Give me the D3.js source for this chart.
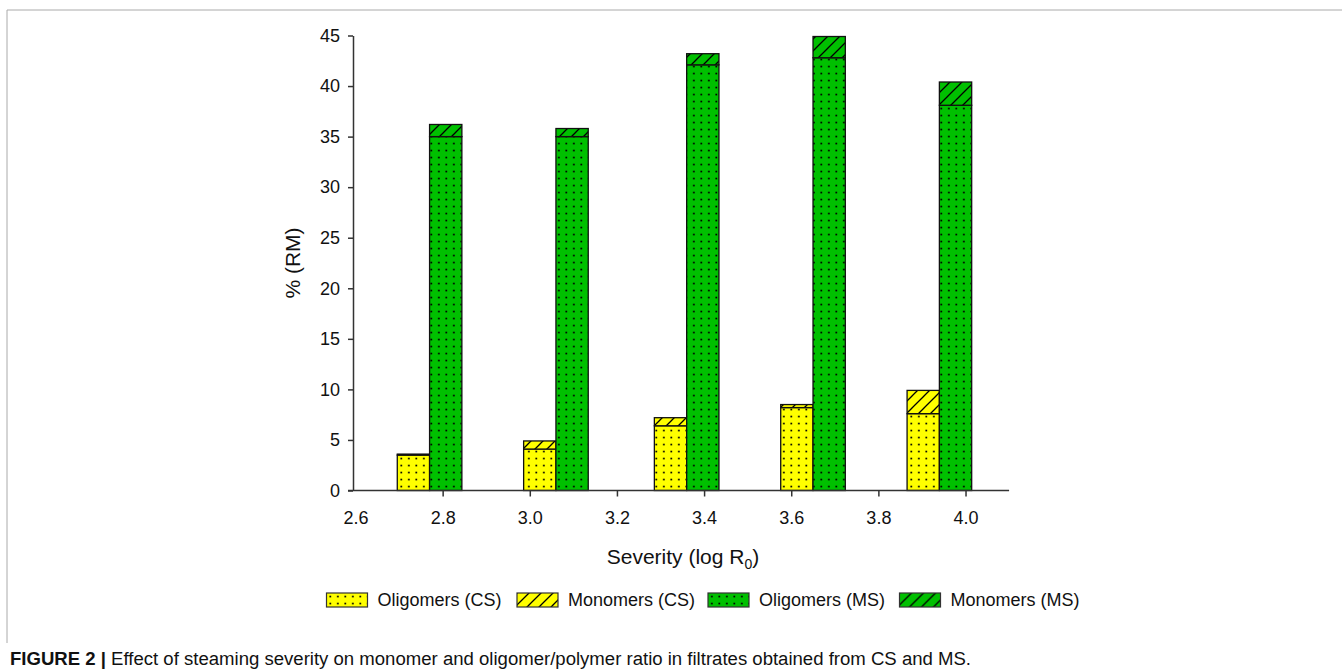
<!DOCTYPE html>
<html>
<head>
<meta charset="utf-8">
<script src="https://cdn.jsdelivr.net/npm/d3@7"></script>
<style>
  body { margin: 0; background: #fff; }
  svg { display: block; font-family: "Liberation Sans", Arial, sans-serif; }
</style>
</head>
<body>
<div id="chart"></div>
<script>
// severity values (log R0) of each steaming run
const severity = [2.77, 3.06, 3.36, 3.65, 3.94];
// % of raw material
const oligomersCS = [3.5, 4.1, 6.4, 8.2, 7.6];
const monomersCS = [0.1, 0.8, 0.8, 0.3, 2.3];
const oligomersMS = [35.0, 35.0, 42.1, 42.8, 38.1];
const monomersMS = [1.2, 0.8, 1.1, 2.1, 2.3];

const xTicks = [2.6, 2.8, 3.0, 3.2, 3.4, 3.6, 3.8, 4.0];
const yTicks = [0, 5, 10, 15, 20, 25, 30, 35, 40, 45];
const legendLabels = ["Oligomers (CS)", "Monomers (CS)", "Oligomers (MS)", "Monomers (MS)"];

const width = 1342, height = 670;
const yellow = "#ffff00", green = "#00c000";
const barW = 32.3;

const svg = d3.select("#chart").append("svg")
  .attr("width", width)
  .attr("height", height);

// patterns: dots for oligomers, hatch for monomers
const defs = svg.append("defs");
function dotPattern(id, color) {
  const p = defs.append("pattern").attr("id", id)
    .attr("patternUnits", "userSpaceOnUse")
    .attr("width", 7.5).attr("height", 7);
  p.append("rect").attr("width", 7.5).attr("height", 7).attr("fill", color);
  p.append("rect").attr("x", 3).attr("y", 2.7).attr("width", 1.7).attr("height", 1.7).attr("fill", "#000");
}
function hatchPattern(id, color) {
  const p = defs.append("pattern").attr("id", id)
    .attr("patternUnits", "userSpaceOnUse")
    .attr("width", 12).attr("height", 12);
  p.append("rect").attr("width", 12).attr("height", 12).attr("fill", color);
  p.append("path").attr("d", "M0,12 L12,0 M-3,3 L3,-3 M9,15 L15,9")
    .attr("stroke", "#000").attr("stroke-width", 1.3);
}
dotPattern("dotsY", yellow);
hatchPattern("hatchY", yellow);
dotPattern("dotsG", green);
hatchPattern("hatchG", green);
const fills = ["url(#dotsY)", "url(#hatchY)", "url(#dotsG)", "url(#hatchG)"];

// frame
svg.append("path")
  .attr("d", `M7,643 L7,10 L${width},10`)
  .attr("fill", "none").attr("stroke", "#aaa").attr("stroke-width", 1);

const x = d3.scaleLinear().domain([2.6, 4.1]).range([355.5, 1009.1]);
const y = d3.scaleLinear().domain([0, 45]).range([490.5, 35.5]);
const axisX = 353;

// bars
const rows = severity.map((s, i) => ({ s, oc: oligomersCS[i], mc: monomersCS[i], om: oligomersMS[i], mm: monomersMS[i] }));
const segs = [];
rows.forEach(d => {
  segs.push({ x0: x(d.s) - barW, y0: 0, y1: d.oc, f: fills[0] });
  segs.push({ x0: x(d.s) - barW, y0: d.oc, y1: d.oc + d.mc, f: fills[1] });
  segs.push({ x0: x(d.s), y0: 0, y1: d.om, f: fills[2] });
  segs.push({ x0: x(d.s), y0: d.om, y1: d.om + d.mm, f: fills[3] });
});
svg.append("g").selectAll("rect").data(segs).enter().append("rect")
  .attr("x", d => d.x0)
  .attr("y", d => y(d.y1))
  .attr("width", barW)
  .attr("height", d => y(d.y0) - y(d.y1))
  .attr("fill", d => d.f)
  .attr("stroke", "#111")
  .attr("stroke-width", 1.3);

// axes
const gy = svg.append("g")
  .attr("transform", `translate(${axisX},0)`)
  .call(d3.axisLeft(y).tickValues(yTicks).tickSize(5).tickPadding(8).tickSizeOuter(0));
const gx = svg.append("g")
  .attr("transform", `translate(0,${y(0)})`)
  .call(d3.axisBottom(x).tickValues(xTicks).tickFormat(d3.format(".1f")).tickSize(6).tickPadding(15).tickSizeOuter(0));
gx.select(".domain").remove();
gx.selectAll(".tick").filter(d => d === 2.6).select("line").remove();
svg.append("line")
  .attr("x1", axisX - 5).attr("x2", x(4.1))
  .attr("y1", y(0)).attr("y2", y(0))
  .attr("stroke", "#333").attr("stroke-width", 1.5);
[gx, gy].forEach(g => {
  g.selectAll("text").attr("font-size", 18).attr("fill", "#111").attr("font-family", null);
  g.selectAll("line, path").attr("stroke", "#333").attr("stroke-width", 1.5);
});

// axis titles
svg.append("text")
  .attr("transform", "translate(300,263) rotate(-90)")
  .attr("text-anchor", "middle")
  .attr("font-size", 21).attr("fill", "#111")
  .text("% (RM)");
const xt = svg.append("text")
  .attr("x", 683).attr("y", 564)
  .attr("text-anchor", "middle")
  .attr("font-size", 21).attr("fill", "#111");
xt.append("tspan").text("Severity (log R");
xt.append("tspan").attr("font-size", 14).attr("dy", 5).text("0");
xt.append("tspan").attr("dy", -5).text(")");

// legend
const legendX = [326.5, 517, 708, 899.5];
const lg = svg.append("g").selectAll("g").data(legendLabels).enter().append("g")
  .attr("transform", (d, i) => `translate(${legendX[i]},593)`);
lg.append("rect")
  .attr("width", 41).attr("height", 14)
  .attr("fill", (d, i) => fills[i])
  .attr("stroke", "#333").attr("stroke-width", 1.2);
lg.append("text")
  .attr("x", 51).attr("y", 13)
  .attr("font-size", 18).attr("fill", "#111")
  .text(d => d);

// caption
const cap = svg.append("text")
  .attr("x", 10).attr("y", 665)
  .attr("font-size", 18).attr("fill", "#111")
  .attr("textLength", 961).attr("lengthAdjust", "spacingAndGlyphs");
cap.append("tspan").attr("font-weight", "bold").text("FIGURE 2 | ");
cap.append("tspan").text("Effect of steaming severity on monomer and oligomer/polymer ratio in filtrates obtained from CS and MS.");
</script>
</body>
</html>
